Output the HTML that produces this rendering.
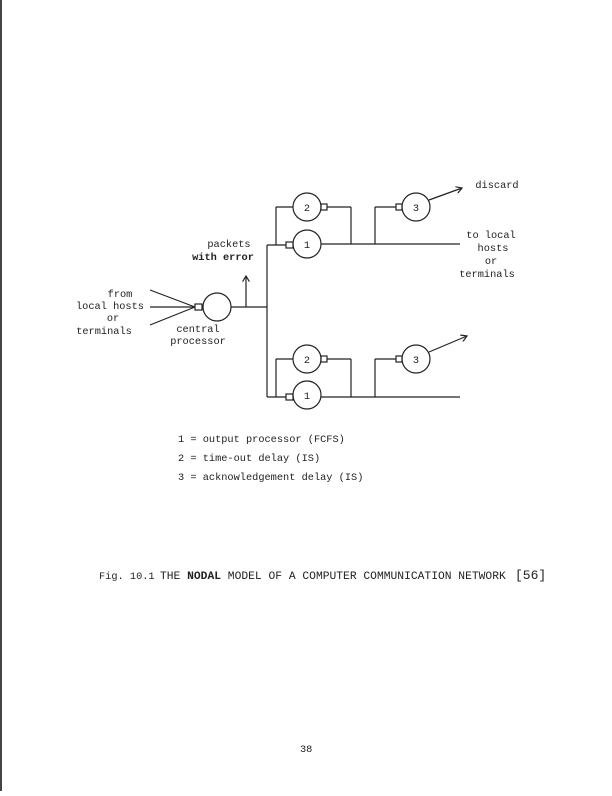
<!DOCTYPE html>
<html><head><style>
body{margin:0;background:#fff;}
.t{font-family:"Liberation Mono",monospace;font-size:10.3px;fill:#222;}
.c{font-family:"Liberation Mono",monospace;font-size:11.3px;fill:#222;}
</style></head><body>
<svg width="612" height="791" xmlns="http://www.w3.org/2000/svg">
<defs><marker id="a" markerWidth="6" markerHeight="6" refX="5" refY="3" orient="auto"><path d="M0,0 L5,3 L0,6" fill="none" stroke="#222" stroke-width="1"/></marker></defs>
<rect x="0" y="0" width="2" height="791" fill="#444"/>
<g stroke="#222" stroke-width="1.2" fill="none">
<line x1="150" y1="290" x2="195" y2="307"/><line x1="150" y1="307" x2="195" y2="307"/><line x1="150" y1="325" x2="195" y2="307"/>
<rect x="195" y="304" width="7" height="6"/>
<circle cx="217" cy="307" r="14"/>
<line x1="231" y1="307" x2="267" y2="307"/>
<line x1="246" y1="307" x2="246" y2="276" marker-end="url(#a)"/>
<line x1="267" y1="245" x2="267" y2="397"/>
<line x1="267" y1="245" x2="286" y2="245"/>
<rect x="286" y="242" width="7" height="6"/>
<circle cx="307" cy="244" r="14"/>
<line x1="276" y1="245" x2="276" y2="207"/><line x1="276" y1="207" x2="293" y2="207"/>
<circle cx="307" cy="207" r="14"/>
<rect x="321" y="204" width="6" height="6"/>
<line x1="327" y1="207" x2="351" y2="207"/><line x1="351" y1="207" x2="351" y2="244"/>
<line x1="321" y1="244" x2="460" y2="244"/>
<line x1="375" y1="244" x2="375" y2="207"/><line x1="375" y1="207" x2="396" y2="207"/>
<rect x="396" y="204" width="6" height="6"/>
<circle cx="416" cy="207" r="14"/>
<line x1="429" y1="200" x2="462" y2="188" marker-end="url(#a)"/>
<line x1="267" y1="397" x2="286" y2="397"/>
<rect x="286" y="394" width="7" height="6"/>
<circle cx="307" cy="395" r="14"/>
<line x1="276" y1="397" x2="276" y2="359"/><line x1="276" y1="359" x2="293" y2="359"/>
<circle cx="307" cy="359" r="14"/>
<rect x="321" y="356" width="6" height="6"/>
<line x1="327" y1="359" x2="351" y2="359"/><line x1="351" y1="359" x2="351" y2="397"/>
<line x1="321" y1="397" x2="460" y2="397"/>
<line x1="375" y1="397" x2="375" y2="359"/><line x1="375" y1="359" x2="396" y2="359"/>
<rect x="396" y="356" width="6" height="6"/>
<circle cx="416" cy="359" r="14"/>
<line x1="429" y1="352" x2="467" y2="336" marker-end="url(#a)"/>
</g>
<g class="t" text-anchor="middle">
<text x="307" y="211">2</text><text x="307" y="248">1</text><text x="416" y="211">3</text>
<text x="307" y="363">2</text><text x="307" y="399">1</text><text x="416" y="363">3</text>
<text x="229" y="247">packets</text><text x="223" y="260" font-weight="bold">with error</text>
<text x="120" y="297">from</text><text x="110" y="309">local hosts</text><text x="113" y="321">or</text><text x="104" y="334">terminals</text>
<text x="198" y="332">central</text><text x="198" y="344">processor</text>
<text x="497" y="188">discard</text>
<text x="491" y="238">to local</text><text x="493" y="251">hosts</text><text x="491" y="264">or</text><text x="487" y="277">terminals</text>
</g>
<g class="t">
<text x="178" y="442">1 = output processor (FCFS)</text>
<text x="178" y="461">2 = time-out delay (IS)</text>
<text x="178" y="480">3 = acknowledgement delay (IS)</text>
<text x="300" y="752">38</text>
</g>
<g class="c">
<text x="99" y="579" font-size="10.3">Fig. 10.1</text>
<text x="160" y="579">THE <tspan font-weight="bold">NODAL</tspan> MODEL OF A COMPUTER COMMUNICATION NETWORK</text>
<text x="515" y="579" font-size="13">[56]</text>
</g>
</svg>
</body></html>
